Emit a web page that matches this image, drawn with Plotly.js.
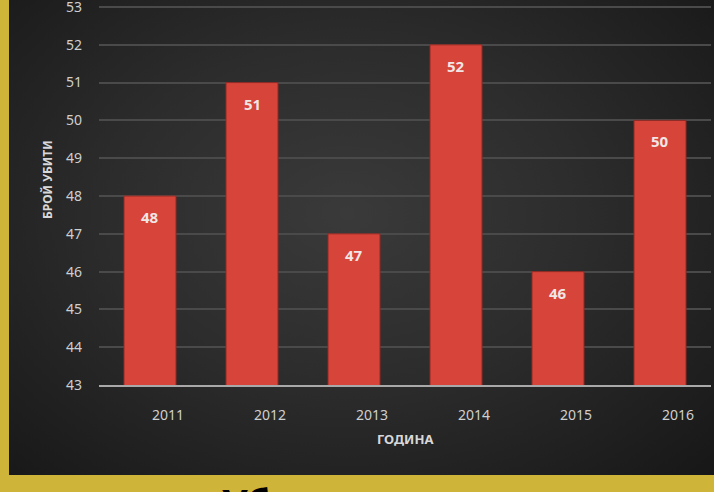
<!DOCTYPE html>
<html>
<head>
<meta charset="utf-8">
<script src="https://cdn.plot.ly/plotly-3.0.1.min.js"></script>
<style>
  html, body { margin: 0; padding: 0; width: 714px; height: 492px; overflow: hidden; background: #cfb43a; }
  #bg { position: absolute; left: 9px; top: 0; width: 705px; height: 475px;
        background: radial-gradient(ellipse 75% 80% at 48% 45%, #3a3a3a 0%, #2c2c2c 45%, #161616 100%); }
  #chart { position: absolute; left: 0; top: 0; width: 714px; height: 492px; }
</style>
</head>
<body>
<div id="bg"></div>
<div id="chart"></div>
<script>
const years = ['2011', '2012', '2013', '2014', '2015', '2016'];
const killed = [48, 51, 47, 52, 46, 50];
const yTicks = [43, 44, 45, 46, 47, 48, 49, 50, 51, 52, 53];
const xTitle = 'ГОДИНА';
const yTitle = 'БРОЙ УБИТИ';
const bottomTitle = 'Уб';

const xIdx = years.map((_, i) => i);

const trace = {
  type: 'bar',
  x: xIdx,
  y: killed,
  width: 0.51,
  marker: { color: '#d6443a', line: { color: '#8f2a24', width: 1 } },
  hoverinfo: 'skip'
};

const labelAnns = years.map((yr, i) => ({
  x: xIdx[i], y: killed[i], xref: 'x', yref: 'y',
  text: '<b>' + killed[i] + '</b>', showarrow: false,
  yanchor: 'middle', yshift: -21,
  font: { family: 'Noto Sans, sans-serif', size: 15, color: '#f2e6e4' }
}));

const layout = {
  width: 714, height: 492,
  margin: { l: 99, r: 3, t: 0, b: 107, pad: 0 },
  paper_bgcolor: 'rgba(0,0,0,0)',
  plot_bgcolor: 'rgba(0,0,0,0)',
  showlegend: false,
  xaxis: {
    range: [-0.5, 5.5],
    tickvals: xIdx,
    ticktext: years,
    showgrid: false,
    showline: true, linecolor: '#a9a9a9', linewidth: 2,
    ticks: '', ticklabelstandoff: 16, ticklabelshift: 18,
    tickfont: { family: 'Noto Sans, sans-serif', size: 14, color: '#cfcfcf' },
    zeroline: false
  },
  yaxis: {
    range: [43, 53.185],
    tickvals: yTicks,
    ticktext: yTicks.map(String),
    showgrid: true, gridcolor: '#4a4a4a', gridwidth: 2,
    showline: false, zeroline: false,
    ticks: '', ticklabelstandoff: 16,
    ticklabeloverflow: 'allow',
    tickfont: { family: 'Noto Sans, sans-serif', size: 14, color: '#cfcfcf' }
  },
  annotations: labelAnns.concat([
    { text: '<b>' + yTitle + '</b>', xref: 'paper', yref: 'paper',
      x: -0.085, y: 0.535, textangle: -90, showarrow: false,
      xanchor: 'center', yanchor: 'middle',
      font: { family: 'Noto Sans, sans-serif', size: 12, color: '#d8d8d8' } },
    { text: '<b>' + xTitle + '</b>', xref: 'paper', yref: 'paper',
      x: 0.5, y: -0.1403, showarrow: false,
      xanchor: 'center', yanchor: 'middle',
      font: { family: 'Noto Sans, sans-serif', size: 13, color: '#d8d8d8' } },
    { text: '<b>' + bottomTitle + '</b>', xref: 'paper', yref: 'paper',
      x: 0.197, y: -0.228, showarrow: false,
      xanchor: 'left', yanchor: 'top',
      font: { family: 'Noto Sans, sans-serif', size: 40, color: '#000000' } }
  ])
};

Plotly.newPlot('chart', [trace], layout, { staticPlot: true, displayModeBar: false });
</script>
</body>
</html>
